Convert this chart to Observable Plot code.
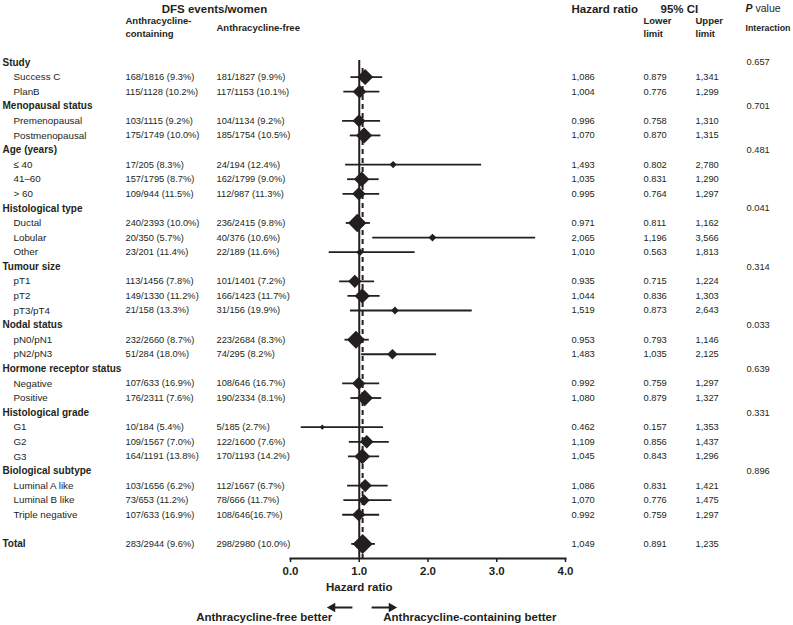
<!DOCTYPE html>
<html><head><meta charset="utf-8">
<script src="https://cdn.jsdelivr.net/npm/d3@7"></script>
<script src="https://cdn.jsdelivr.net/npm/@observablehq/plot@0.6"></script>
<style>
body{margin:0;background:#fff}
svg{font-family:"Liberation Sans",Arial,Helvetica,sans-serif}
</style>
</head><body><div id="chart"></div>
<script>
// ---- data ----
const groups = ["Study","Menopausal status","Age (years)","Histological type","Tumour size","Nodal status","Hormone receptor status","Histological grade","Biological subtype"];
const pInteraction = ["0.657","0.701","0.481","0.041","0.314","0.033","0.639","0.331","0.896"];
const subgroups = ["Success C","PlanB","Premenopausal","Postmenopausal","≤ 40","41–60","> 60","Ductal","Lobular","Other","pT1","pT2","pT3/pT4","pN0/pN1","pN2/pN3","Negative","Positive","G1","G2","G3","Luminal A like","Luminal B like","Triple negative"];
const groupOf = ["Study","Study","Menopausal status","Menopausal status","Age (years)","Age (years)","Age (years)","Histological type","Histological type","Histological type","Tumour size","Tumour size","Tumour size","Nodal status","Nodal status","Hormone receptor status","Hormone receptor status","Histological grade","Histological grade","Histological grade","Biological subtype","Biological subtype","Biological subtype"];
const containing = ["168/1816 (9.3%)","115/1128 (10.2%)","103/1115 (9.2%)","175/1749 (10.0%)","17/205 (8.3%)","157/1795 (8.7%)","109/944 (11.5%)","240/2393 (10.0%)","20/350 (5.7%)","23/201 (11.4%)","113/1456 (7.8%)","149/1330 (11.2%)","21/158 (13.3%)","232/2660 (8.7%)","51/284 (18.0%)","107/633 (16.9%)","176/2311 (7.6%)","10/184 (5.4%)","109/1567 (7.0%)","164/1191 (13.8%)","103/1656 (6.2%)","73/653 (11.2%)","107/633 (16.9%)"];
const free = ["181/1827 (9.9%)","117/1153 (10.1%)","104/1134 (9.2%)","185/1754 (10.5%)","24/194 (12.4%)","162/1799 (9.0%)","112/987 (11.3%)","236/2415 (9.8%)","40/376 (10.6%)","22/189 (11.6%)","101/1401 (7.2%)","166/1423 (11.7%)","31/156 (19.9%)","223/2684 (8.3%)","74/295 (8.2%)","108/646 (16.7%)","190/2334 (8.1%)","5/185 (2.7%)","122/1600 (7.6%)","170/1193 (14.2%)","112/1667 (6.7%)","78/666 (11.7%)","108/646(16.7%)"];
const hazard = [1.086,1.004,0.996,1.070,1.493,1.035,0.995,0.971,2.065,1.010,0.935,1.044,1.519,0.953,1.483,0.992,1.080,0.462,1.109,1.045,1.086,1.070,0.992];
const lowerLimit = [0.879,0.776,0.758,0.870,0.802,0.831,0.764,0.811,1.196,0.563,0.715,0.836,0.873,0.793,1.035,0.759,0.879,0.157,0.856,0.843,0.831,0.776,0.759];
const upperLimit = [1.341,1.299,1.310,1.315,2.780,1.290,1.297,1.162,3.566,1.813,1.224,1.303,2.643,1.146,2.125,1.297,1.327,1.353,1.437,1.296,1.421,1.475,1.297];
const totalLabel = "Total";
const totalContaining = "283/2944 (9.6%)";
const totalFree = "298/2980 (10.0%)";
const totalHazard = 1.049, totalLower = 0.891, totalUpper = 1.235;
const xTicks = [0, 1, 2, 3, 4];
const nullHazard = 1;

// ---- rows ----
const rows = [];
groups.forEach((g, gi) => {
  rows.push({kind: "group", label: g, p: pInteraction[gi]});
  subgroups.forEach((s, i) => {
    if (groupOf[i] === g) rows.push({kind: "sub", label: s, a: containing[i], b: free[i], hr: hazard[i], lo: lowerLimit[i], hi: upperLimit[i]});
  });
});
rows.push({kind: "gap", label: ""});
rows.push({kind: "total", label: totalLabel, a: totalContaining, b: totalFree, hr: totalHazard, lo: totalLower, hi: totalUpper});
rows.forEach((r, i) => r.row = i);
const n = rows.length;
const est = rows.filter(r => r.hr != null);
est.forEach(r => { const se = Math.log(r.hi / r.lo) / (2 * 1.96); r.w = 1 / (se * se); });
const fmt = v => v >= 1 ? v.toFixed(3).replace(".", ",") : v.toFixed(3);

const ink = "#231f20";
const bold = {fontWeight: "bold", fill: ink};
const T = (txt, o) => Plot.text([txt], {text: d => d, fill: ink, ...o});
const arrowTail = 0.1, arrowHead = 0.43, arrowTail2 = 0.18, arrowHead2 = 0.51;

const chart = Plot.plot({
  width: 793, height: 625,
  marginLeft: 290, marginRight: 228, marginTop: 62, marginBottom: 67,
  x: {domain: [0, 4], axis: null},
  y: {domain: [0, n], reverse: true, axis: null},
  r: {type: "sqrt", domain: [0, d3.max(est, d => d.w)], range: [1.2, 9]},
  style: {fontFamily: '"Liberation Sans", Arial, sans-serif', background: "#fff", color: ink},
  marks: [
    Plot.ruleX([nullHazard], {x: d => d, stroke: ink, strokeWidth: 2, insetTop: -2}),
    Plot.ruleX([totalHazard], {x: d => d, stroke: ink, strokeWidth: 2, strokeDasharray: "5,4", insetTop: 6}),
    Plot.ruleY(est, {y: "row", x1: "lo", x2: "hi", stroke: ink, strokeWidth: 1.8}),
    Plot.dot(est, {x: "hr", y: "row", r: "w", symbol: "diamond2", fill: ink, stroke: "none"}),
    Plot.frame({anchor: "bottom", stroke: ink, strokeWidth: 2}),
    Plot.axisX({ticks: xTicks, tickFormat: d => d.toFixed(1), tickSize: 4, tickPadding: 4, fontSize: 11.5, fontWeight: "bold", stroke: ink, strokeWidth: 1.5, fill: ink, label: null}),
    // row labels
    Plot.text(rows.filter(r => r.kind === "group" || r.kind === "total"), {y: "row", text: "label", frameAnchor: "left", dx: -288, textAnchor: "start", fontSize: 10, ...bold}),
    Plot.text(rows.filter(r => r.kind === "sub"), {y: "row", text: "label", frameAnchor: "left", dx: -277, textAnchor: "start", fontSize: 9.8, fill: ink}),
    Plot.text(est, {y: "row", text: "a", frameAnchor: "left", dx: -165, textAnchor: "start", fontSize: 9.3, fill: ink}),
    Plot.text(est, {y: "row", text: "b", frameAnchor: "left", dx: -74, textAnchor: "start", fontSize: 9.3, fill: ink}),
    Plot.text(est, {y: "row", text: d => fmt(d.hr), frameAnchor: "right", dx: 6, textAnchor: "start", fontSize: 9.3, fill: ink}),
    Plot.text(est, {y: "row", text: d => fmt(d.lo), frameAnchor: "right", dx: 78, textAnchor: "start", fontSize: 9.3, fill: ink}),
    Plot.text(est, {y: "row", text: d => fmt(d.hi), frameAnchor: "right", dx: 130, textAnchor: "start", fontSize: 9.3, fill: ink}),
    Plot.text(rows.filter(r => r.kind === "group"), {y: "row", text: "p", frameAnchor: "right", dx: 181, textAnchor: "start", fontSize: 9.3, fill: ink}),
    // headers
    T("DFS events/women", {frameAnchor: "top-left", dx: -76, dy: -58, textAnchor: "middle", fontSize: 11.5, ...bold}),
    T("Anthracycline-\ncontaining", {frameAnchor: "top-left", dx: -165, dy: -48, textAnchor: "start", fontSize: 9.5, lineHeight: 1.38, ...bold}),
    T("Anthracycline-free", {frameAnchor: "top-left", dx: -74, dy: -38, textAnchor: "start", fontSize: 9.5, ...bold}),
    T("Hazard ratio", {frameAnchor: "top-right", dx: 6, dy: -58, textAnchor: "start", fontSize: 11.5, ...bold}),
    T("95% CI", {frameAnchor: "top-right", dx: 95, dy: -58, textAnchor: "start", fontSize: 11.5, ...bold}),
    T("P", {frameAnchor: "top-right", dx: 180, dy: -58, textAnchor: "start", fontSize: 10.5, fontStyle: "italic", ...bold}),
    T("value", {frameAnchor: "top-right", dx: 190, dy: -58, textAnchor: "start", fontSize: 10.5, fill: ink}),
    T("Lower\nlimit", {frameAnchor: "top-right", dx: 78, dy: -47, textAnchor: "start", fontSize: 9.5, lineHeight: 1.3, ...bold}),
    T("Upper\nlimit", {frameAnchor: "top-right", dx: 130, dy: -47, textAnchor: "start", fontSize: 9.5, lineHeight: 1.3, ...bold}),
    T("Interaction", {frameAnchor: "top-right", dx: 180, dy: -38, textAnchor: "start", fontSize: 8.8, ...bold}),
    // below axis
    Plot.text(["Hazard ratio"], {x: () => nullHazard, frameAnchor: "bottom", dy: 32, text: d => d, textAnchor: "middle", fontSize: 11.5, ...bold}),
    Plot.link([0], {x1: () => nullHazard - arrowTail, x2: () => nullHazard - arrowHead + 0.05, y1: () => n, y2: () => n, dy: 49, stroke: ink, strokeWidth: 2}),
    Plot.dot([0], {x: () => nullHazard - arrowHead + 0.04, y: () => n, dy: 49, symbol: "triangle", rotate: -90, r: 3.6, fill: ink, stroke: "none"}),
    Plot.link([0], {x1: () => nullHazard + arrowTail2, x2: () => nullHazard + arrowHead2 - 0.05, y1: () => n, y2: () => n, dy: 49, stroke: ink, strokeWidth: 2}),
    Plot.dot([0], {x: () => nullHazard + arrowHead2 - 0.04, y: () => n, dy: 49, symbol: "triangle", rotate: 90, r: 3.6, fill: ink, stroke: "none"}),
    Plot.text(["Anthracycline-free better"], {x: () => nullHazard, frameAnchor: "bottom", dx: -27, dy: 62, text: d => d, textAnchor: "end", fontSize: 11.5, ...bold}),
    Plot.text(["Anthracycline-containing better"], {x: () => nullHazard, frameAnchor: "bottom", dx: 24, dy: 62, text: d => d, textAnchor: "start", fontSize: 11.5, ...bold})
  ]
});
document.getElementById("chart").appendChild(chart);
</script>
</body></html>
